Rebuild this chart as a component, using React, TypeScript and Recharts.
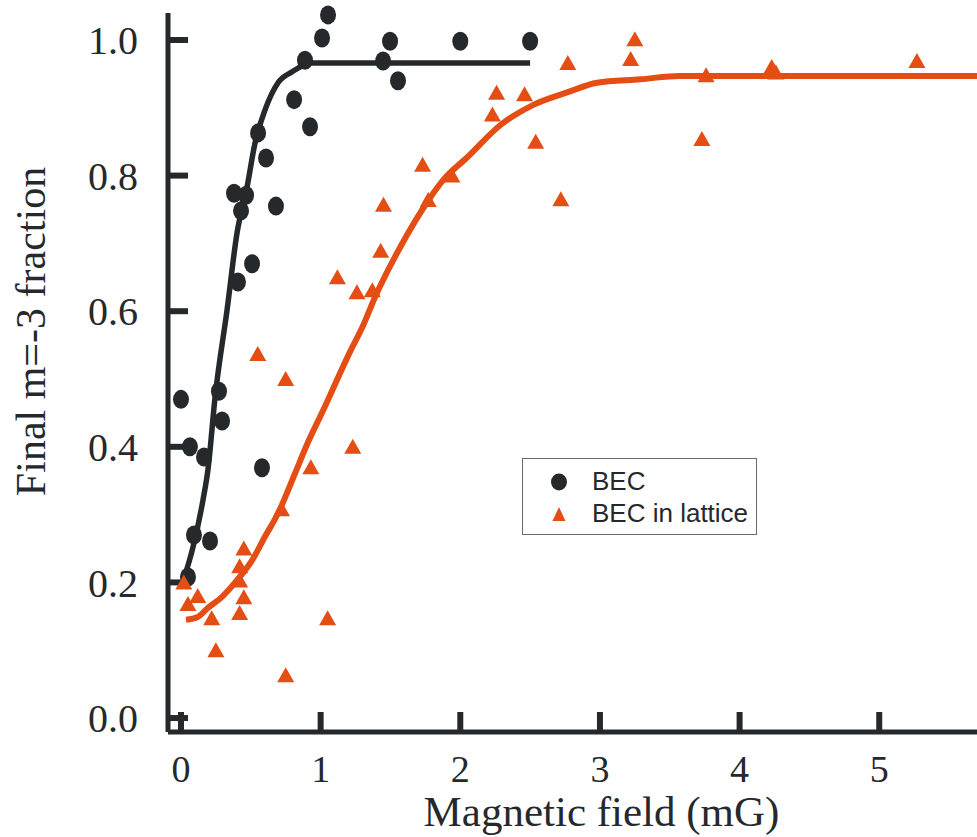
import React from 'react'
import {
  ComposedChart,
  Line,
  Scatter,
  XAxis,
  YAxis,
  Legend,
  Label,
} from 'recharts'

const INK = '#25292b'
const ORANGE = '#e44d14'
const SERIF = '"Liberation Serif", "Times New Roman", serif'
const SANS = '"Liberation Sans", Arial, sans-serif'

// BEC (circles)
const becField = [0, 0.064, 0.093, 0.165, 0.208, 0.05, 0.272, 0.294, 0.38, 0.43, 0.408, 0.466, 0.509, 0.552, 0.609, 0.58, 0.68, 0.81, 0.888, 0.924, 1.01, 1.053, 1.447, 1.497, 1.554, 2.0, 2.5]
const becFraction = [0.47, 0.4, 0.27, 0.385, 0.261, 0.208, 0.482, 0.438, 0.774, 0.748, 0.643, 0.771, 0.67, 0.863, 0.826, 0.369, 0.755, 0.912, 0.97, 0.872, 1.003, 1.037, 0.969, 0.998, 0.94, 0.998, 0.998]

// BEC in lattice (triangles)
const latticeField = [0.02, 0.12, 0.05, 0.22, 0.25, 0.45, 0.42, 0.42, 0.45, 0.42, 1.05, 0.75, 0.72, 0.55, 0.75, 0.93, 1.23, 1.12, 1.26, 1.37, 1.43, 1.45, 1.73, 1.77, 1.94, 2.26, 2.23, 2.46, 2.54, 2.72, 2.77, 3.25, 3.22, 3.76, 3.73, 4.23, 4.26, 5.27]
const latticeFraction = [0.2, 0.18, 0.168, 0.147, 0.1, 0.25, 0.224, 0.203, 0.178, 0.155, 0.147, 0.063, 0.308, 0.537, 0.5, 0.37, 0.4, 0.65, 0.628, 0.631, 0.689, 0.757, 0.816, 0.764, 0.8, 0.922, 0.89, 0.92, 0.85, 0.765, 0.966, 1.001, 0.972, 0.948, 0.854, 0.96, 0.952, 0.969]

// fitted curves
const becFitField = [0.014, 0.086, 0.158, 0.193, 0.244, 0.33, 0.401, 0.473, 0.53, 0.602, 0.695, 0.795, 0.938, 2.5]
const becFitFraction = [0.201, 0.252, 0.322, 0.366, 0.473, 0.602, 0.715, 0.783, 0.848, 0.897, 0.937, 0.953, 0.966, 0.966]

const latticeFitField = [0.036, 0.12, 0.19, 0.29, 0.4, 0.51, 0.6, 0.695, 0.817, 0.91, 1.03, 1.12, 1.21, 1.3, 1.39, 1.55, 1.68, 1.76, 1.88, 2.05, 2.29, 2.52, 2.77, 2.98, 3.29, 3.57, 5.7]
const latticeFitFraction = [0.145, 0.149, 0.162, 0.178, 0.203, 0.233, 0.267, 0.302, 0.361, 0.407, 0.459, 0.5, 0.54, 0.577, 0.621, 0.687, 0.734, 0.76, 0.794, 0.827, 0.875, 0.904, 0.923, 0.937, 0.942, 0.947, 0.947]

const xTicks = [0, 1, 2, 3, 4, 5]
const yTicks = [0, 0.2, 0.4, 0.6, 0.8, 1.0]

const zip = (xs: number[], ys: number[]) => xs.map((x, i) => ({ x, y: ys[i] }))

const becData = zip(becField, becFraction)
const latticeData = zip(latticeField, latticeFraction)
const becFit = zip(becFitField, becFitFraction)
const latticeFit = zip(latticeFitField, latticeFitFraction)

const Dot = (props: any) => {
  const { cx, cy } = props
  return <ellipse cx={cx} cy={cy} rx={8} ry={9.5} fill={INK} />
}

const Tri = (props: any) => {
  const { cx, cy } = props
  return <path d={`M${cx},${cy - 8}L${cx + 8.5},${cy + 7}L${cx - 8.5},${cy + 7}Z`} fill={ORANGE} />
}

const LegendBox = () => (
  <div
    style={{
      width: 235,
      height: 77,
      boxSizing: 'border-box',
      border: '1.5px solid #6a6a6a',
      background: '#fff',
      position: 'relative',
      fontFamily: SANS,
      fontSize: 26,
      color: INK,
    }}
  >
    <svg width={40} height={77} style={{ position: 'absolute', left: 18, top: 0 }}>
      <ellipse cx={18} cy={23} rx={8} ry={8.5} fill={INK} />
      <path d="M18,48L24.5,62L11.5,62Z" fill={ORANGE} />
    </svg>
    <div style={{ position: 'absolute', left: 69, top: 6, lineHeight: '32px' }}>BEC</div>
    <div style={{ position: 'absolute', left: 69, top: 38, lineHeight: '32px' }}>BEC in lattice</div>
  </div>
)

const YTitle = (props: any) => {
  const vb = props.viewBox || { x: 0, y: 13, height: 719 }
  const cx = 31
  const cy = vb.y + vb.height / 2 - 41
  return (
    <text
      x={cx}
      y={cy}
      transform={`rotate(-90 ${cx} ${cy})`}
      textAnchor="middle"
      dominantBaseline="central"
      fontFamily={SERIF}
      fontSize={42}
      fill={INK}
    >
      Final m=-3 fraction
    </text>
  )
}

export default function App() {
  return (
    <div style={{ width: 977, height: 837 }}>
      <style>{'body{margin:0}'}</style>
      <ComposedChart width={977} height={837} margin={{ top: 13, right: 0, bottom: 0, left: 0 }}>
        <XAxis
          type="number"
          dataKey="x"
          domain={[-0.093, 5.7]}
          ticks={xTicks}
          allowDataOverflow
          height={105}
          tickSize={-20}
          tickMargin={43}
          axisLine={{ stroke: INK, strokeWidth: 5 }}
          tickLine={{ stroke: INK, strokeWidth: 6 }}
          tick={{ fill: INK, fontFamily: SERIF, fontSize: 38 }}
        >
          <Label
            value="Magnetic field (mG)"
            position="insideBottom"
            offset={11}
            dx={29}
            fill={INK}
            fontFamily={SERIF}
            fontSize={43}
          />
        </XAxis>
        <YAxis
          type="number"
          domain={[-0.0206, 1.0398]}
          ticks={yTicks}
          width={168}
          tickSize={-20}
          tickMargin={50}
          tickFormatter={(v: number) => v.toFixed(1)}
          axisLine={{ stroke: INK, strokeWidth: 5 }}
          tickLine={{ stroke: INK, strokeWidth: 6 }}
          tick={{ fill: INK, fontFamily: SERIF, fontSize: 40 }}
        >
          <Label content={<YTitle />} />
        </YAxis>
        <Legend
          layout="horizontal"
          verticalAlign="middle"
          align="center"
          content={<LegendBox />}
          wrapperStyle={{ left: 522, top: 458, width: 235, height: 77 }}
        />
        <Line
          data={becFit}
          dataKey="y"
          type="monotone"
          stroke={INK}
          strokeWidth={5.5}
          dot={false}
          activeDot={false}
          legendType="none"
          isAnimationActive={false}
        />
        <Line
          data={latticeFit}
          dataKey="y"
          type="monotone"
          stroke={ORANGE}
          strokeWidth={6}
          dot={false}
          activeDot={false}
          legendType="none"
          isAnimationActive={false}
        />
        <Scatter name="BEC" data={becData} dataKey="y" shape={<Dot />} isAnimationActive={false} />
        <Scatter name="BEC in lattice" data={latticeData} dataKey="y" shape={<Tri />} isAnimationActive={false} />
      </ComposedChart>
    </div>
  )
}
